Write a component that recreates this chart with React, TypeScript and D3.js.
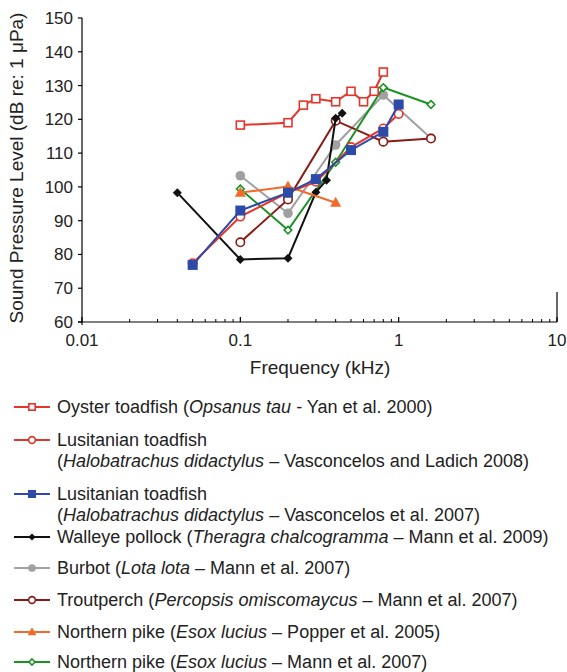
import React from "react";
import * as d3 from "d3";

const yTicks = [60, 70, 80, 90, 100, 110, 120, 130, 140, 150];
const xTicks = [0.01, 0.1, 1, 10];

const oysterF = [0.1, 0.2, 0.25, 0.3, 0.4, 0.5, 0.6, 0.7, 0.8];
const oysterV = [118.3, 119, 124.2, 126.1, 125.2, 128.3, 125.2, 128.3, 134];

const lusi08F = [0.05, 0.1, 0.2, 0.3, 0.5, 0.8, 1.0];
const lusi08V = [77.4, 91.2, 98.3, 101.5, 111.8, 117.3, 121.6];

const lusi07F = [0.05, 0.1, 0.2, 0.3, 0.5, 0.8, 1.0];
const lusi07V = [76.9, 93, 98.3, 102.3, 110.9, 116.3, 124.4];

const pollockF = [0.04, 0.1, 0.2, 0.3, 0.35, 0.4, 0.44];
const pollockV = [98.3, 78.5, 78.9, 98.4, 102, 120.3, 121.8];

const burbotF = [0.1, 0.2, 0.4, 0.8, 1.6];
const burbotV = [103.3, 92.2, 112.4, 127.2, 114.4];

const troutF = [0.1, 0.2, 0.4, 0.8, 1.6];
const troutV = [83.6, 96.3, 119.6, 113.4, 114.3];

const pikePF = [0.1, 0.2, 0.4];
const pikePV = [98.3, 100.1, 95.3];

const pikeMF = [0.1, 0.2, 0.4, 0.8, 1.6];
const pikeMV = [99.4, 87.2, 107.3, 129.4, 124.4];

type Marker = "sqOpen" | "circOpen" | "sqFill" | "diamFill" | "circFill" | "triFill" | "diamOpen";

interface Series {
  f: number[];
  v: number[];
  color: string;
  marker: Marker;
  label: React.ReactNode[];
}

const series: Series[] = [
  { f: oysterF, v: oysterV, color: "#e5342c", marker: "sqOpen", label: [<>Oyster toadfish (<tspan fontStyle="italic">Opsanus tau</tspan> - Yan et al. 2000)</>] },
  { f: lusi08F, v: lusi08V, color: "#e5342c", marker: "circOpen", label: [<>Lusitanian toadfish</>, <>(<tspan fontStyle="italic">Halobatrachus didactylus</tspan> – Vasconcelos and Ladich 2008)</>] },
  { f: lusi07F, v: lusi07V, color: "#2d4aa8", marker: "sqFill", label: [<>Lusitanian toadfish</>, <>(<tspan fontStyle="italic">Halobatrachus didactylus</tspan> – Vasconcelos et al. 2007)</>] },
  { f: pollockF, v: pollockV, color: "#111111", marker: "diamFill", label: [<>Walleye pollock (<tspan fontStyle="italic">Theragra chalcogramma</tspan> – Mann et al. 2009)</>] },
  { f: burbotF, v: burbotV, color: "#a0a0a0", marker: "circFill", label: [<>Burbot (<tspan fontStyle="italic">Lota lota</tspan> – Mann et al. 2007)</>] },
  { f: troutF, v: troutV, color: "#8a1a14", marker: "circOpen", label: [<>Troutperch (<tspan fontStyle="italic">Percopsis omiscomaycus</tspan> – Mann et al. 2007)</>] },
  { f: pikePF, v: pikePV, color: "#f26a2a", marker: "triFill", label: [<>Northern pike (<tspan fontStyle="italic">Esox lucius</tspan> – Popper et al. 2005)</>] },
  { f: pikeMF, v: pikeMV, color: "#1c9124", marker: "diamOpen", label: [<>Northern pike (<tspan fontStyle="italic">Esox lucius</tspan> – Mann et al. 2007)</>] },
];

const drawOrder = [4, 5, 7, 3, 6, 1, 2, 0];

const legendY = [407, 440, 494, 537, 568, 600, 632, 662];

function MarkerShape({ m, x, y, c, s = 1 }: { m: Marker; x: number; y: number; c: string; s?: number }) {
  switch (m) {
    case "sqOpen":
      return <rect x={x - 4 * s} y={y - 4 * s} width={8 * s} height={8 * s} fill="#fff" stroke={c} strokeWidth={1.6} />;
    case "circOpen":
      return <circle cx={x} cy={y} r={4.2 * s} fill="#fff" stroke={c} strokeWidth={1.6} />;
    case "sqFill":
      return <rect x={x - 5 * s} y={y - 5 * s} width={10 * s} height={10 * s} fill={c} />;
    case "diamFill":
      return <path d={`M${x},${y - 4.5 * s}L${x + 4.5 * s},${y}L${x},${y + 4.5 * s}L${x - 4.5 * s},${y}Z`} fill={c} />;
    case "circFill":
      return <circle cx={x} cy={y} r={4.8 * s} fill={c} />;
    case "triFill":
      return <path d={`M${x},${y - 6 * s}L${x + 5.5 * s},${y + 4 * s}L${x - 5.5 * s},${y + 4 * s}Z`} fill={c} />;
    case "diamOpen":
      return <path d={`M${x},${y - 3.8 * s}L${x + 3.8 * s},${y}L${x},${y + 3.8 * s}L${x - 3.8 * s},${y}Z`} fill="#fff" stroke={c} strokeWidth={1.6} />;
  }
}

export default function App() {
  const W = 567, H = 672;
  const left = 82, right = 557, top = 18, bottom = 322;
  const x = d3.scaleLog().domain([0.01, 10]).range([left, right]);
  const y = d3.scaleLinear().domain([60, 150]).range([bottom, top]);
  const line = d3.line<[number, number]>().x((d) => x(d[0])).y((d) => y(d[1]));

  const minor: number[] = [];
  for (let dec = 0.01; dec < 10; dec *= 10) {
    for (let k = 2; k <= 9; k++) minor.push(dec * k);
  }

  const font = "'Liberation Sans', Arial, Helvetica, sans-serif";

  return (
    <svg width={W} height={H} style={{ position: "absolute", left: 0, top: 0 }} fontFamily={font}>
      <rect width={W} height={H} fill="#fff" />
      <line x1={left} x2={left} y1={top} y2={bottom + 3} stroke="#000" strokeWidth={1.2} />
      <line x1={left - 4} x2={right} y1={bottom} y2={bottom} stroke="#000" strokeWidth={1.2} />
      <line x1={right} x2={right} y1={bottom - 30} y2={bottom} stroke="#000" strokeWidth={1.2} />
      {yTicks.map((t) => (
        <g key={t}>
          <line x1={left - 4} x2={left} y1={y(t)} y2={y(t)} stroke="#000" strokeWidth={1.2} />
          <text x={left - 9} y={y(t)} dy="0.35em" textAnchor="end" fontSize={17} fill="#222">{t}</text>
        </g>
      ))}
      {minor.map((t, i) => (
        <line key={i} x1={x(t)} x2={x(t)} y1={bottom} y2={bottom - 3} stroke="#000" strokeWidth={1} />
      ))}
      {xTicks.map((t) => (
        <g key={t}>
          <line x1={x(t)} x2={x(t)} y1={bottom} y2={bottom - 5} stroke="#000" strokeWidth={1.2} />
          <text x={x(t)} y={bottom + 24} textAnchor="middle" fontSize={17} fill="#222">{t}</text>
        </g>
      ))}
      <text x={320} y={374} textAnchor="middle" fontSize={19} fill="#222">Frequency (kHz)</text>
      <text transform={`translate(23,168) rotate(-90)`} textAnchor="middle" fontSize={19} fill="#222">Sound Pressure Level (dB re: 1 μPa)</text>

      {drawOrder.map((i) => {
        const s = series[i];
        const pts: [number, number][] = s.f.map((f, j) => [f, s.v[j]]);
        return (
          <g key={i}>
            <path d={line(pts) || ""} fill="none" stroke={s.color} strokeWidth={2} />
            {pts.map((p, j) => (
              <MarkerShape key={j} m={s.marker} x={x(p[0])} y={y(p[1])} c={s.color} />
            ))}
          </g>
        );
      })}

      {series.map((s, i) => (
        <g key={i}>
          <line x1={14} x2={50} y1={legendY[i]} y2={legendY[i]} stroke={s.color} strokeWidth={2} />
          <MarkerShape m={s.marker} x={32} y={legendY[i]} c={s.color} s={0.8} />
          {s.label.map((l, k) => (
            <text key={k} x={57} y={legendY[i] + k * 21} dy="0.35em" fontSize={18} fill="#222">{l}</text>
          ))}
        </g>
      ))}
    </svg>
  );
}
